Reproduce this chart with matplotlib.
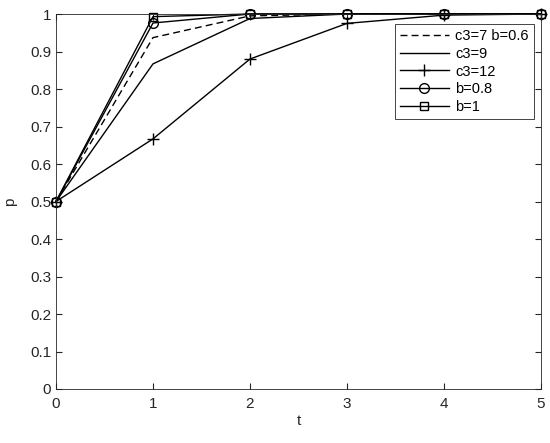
import matplotlib.pyplot as plt

plt.rcParams['font.family'] = ['Liberation Sans', 'DejaVu Sans']

t = [0, 1, 2, 3, 4, 5]
p_c3_7 = [0.5, 0.937, 0.995, 1.0, 1.0, 1.0]
p_c3_9 = [0.5, 0.867, 0.988, 1.0, 1.0, 1.0]
p_c3_12 = [0.5, 0.667, 0.880, 0.975, 0.997, 1.0]
p_b08 = [0.5, 0.976, 1.0, 1.0, 1.0, 1.0]
p_b1 = [0.5, 0.993, 1.0, 1.0, 1.0, 1.0]

fig = plt.figure(figsize=(5.5, 4.43), dpi=100)
ax = fig.add_axes([56 / 550, 1 - 389 / 443, 485 / 550, 375 / 443])

lw = 1.0
ax.plot(t, p_c3_7, 'k--', dashes=(5, 3), linewidth=lw, label='c3=7 b=0.6', clip_on=False)
ax.plot(t, p_c3_9, 'k-', linewidth=lw, label='c3=9', clip_on=False)
ax.plot(t, p_c3_12, 'k-', marker='+', markersize=8, linewidth=lw, label='c3=12', clip_on=False)
ax.plot(t, p_b08, 'k-', marker='o', markersize=7, markerfacecolor='none', linewidth=lw,
        label='b=0.8', clip_on=False)
ax.plot(t, p_b1, 'k-', marker='s', markersize=6, markerfacecolor='none', linewidth=lw,
        label='b=1', clip_on=False)

ax.set_xlim(0, 5)
ax.set_ylim(0, 1)
ax.set_xticks(range(6))
ax.set_yticks([i / 10 for i in range(11)])
ax.set_yticklabels(['0'] + [f'{i / 10:g}' for i in range(1, 10)] + ['1'])
ax.set_xlabel('t', fontsize=11, color='#262626', labelpad=2)
ax.set_ylabel('p', fontsize=11, color='#262626', labelpad=9)
ax.tick_params(direction='in', labelsize=11, colors='#262626', length=4, top=True, right=True)
ax.tick_params(axis='x', pad=6)
for s in ax.spines.values():
    s.set_color('#262626')
    s.set_linewidth(0.6)

leg = ax.legend(loc='upper right', bbox_to_anchor=(0.985, 0.973), fontsize=10.5,
                fancybox=False, edgecolor='#262626', framealpha=1,
                handlelength=3.4, handletextpad=0.4, borderaxespad=0,
                labelspacing=0.25, borderpad=0.35)
leg.get_frame().set_linewidth(0.6)

fig.savefig('out.png', dpi=100)
